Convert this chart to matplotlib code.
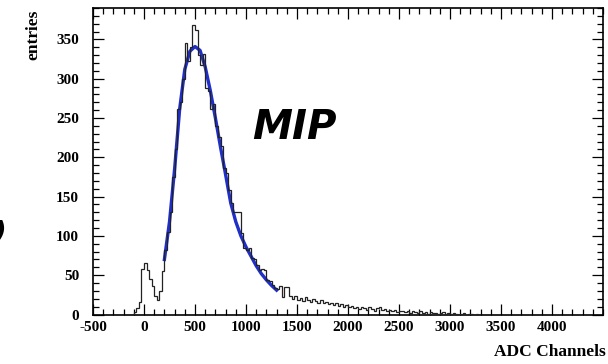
import numpy as np
import matplotlib
matplotlib.use("Agg")
import matplotlib.pyplot as plt
from matplotlib.ticker import MultipleLocator, FixedLocator

plt.rcParams["axes.unicode_minus"] = False

# histogram: 25-channel bins starting at -100
bin_lo = -100
bin_width = 25
counts = [3, 8, 16, 58, 66, 57, 45, 36, 24, 19, 30, 55,
          82, 105, 130, 175, 210, 262, 270, 300, 345, 322, 340, 368,
          362, 330, 318, 332, 288, 284, 262, 268, 240, 226, 215, 186,
          180, 158, 142, 131, 130, 131, 104, 84, 82, 85, 72, 70,
          63, 57, 58, 57, 44, 42, 38, 34, 33, 36, 22, 35, 35, 24,
          20, 23, 18, 21, 17, 22, 19, 16, 20, 17, 15, 18, 14, 16,
          13, 15, 12, 14, 11, 13, 10, 12, 9, 11, 8, 10, 7, 9, 8, 6,
          9, 7, 5, 8, 10, 6, 7, 5, 6, 4, 6, 3, 5, 4, 3, 5, 2, 4,
          3, 2, 4, 2, 3, 1, 3, 2, 2, 1, 2, 3, 1, 2, 1, 2, 1, 0,
          1, 2, 0, 1, 1, 0, 1, 0]

# Landau fit curve
fit_x = [200, 250, 300, 350, 400, 450, 500, 550, 600, 650, 700, 750,
         800, 850, 900, 950, 1000, 1050, 1100, 1150, 1200, 1250, 1300]
fit_y = [70, 118, 185, 262, 312, 335, 341, 336, 315, 285, 250, 213,
         178, 142, 118, 100, 86, 74, 62, 52, 44, 37, 31]

x_ticks = [-500, 0, 500, 1000, 1500, 2000, 2500, 3000, 3500, 4000]
y_ticks = [0, 50, 100, 150, 200, 250, 300, 350]

edges = bin_lo + bin_width * np.arange(len(counts) + 1)

serif = "Liberation Serif"
fig = plt.figure(figsize=(6.08, 3.64), dpi=100)
ax = fig.add_axes([93 / 608, 1 - 314.5 / 364, 510 / 608, 306.5 / 364])

ax.plot(fit_x, fit_y, color="#1f2fc8", lw=2.4, zorder=2)
ax.stairs(counts, edges, color="#222222", lw=0.9, zorder=3)

ax.set_xlim(-500, 4500)
ax.set_ylim(0, 390)
ax.xaxis.set_major_locator(FixedLocator(x_ticks))
ax.xaxis.set_minor_locator(MultipleLocator(100))
ax.yaxis.set_major_locator(FixedLocator(y_ticks))
ax.yaxis.set_minor_locator(MultipleLocator(10))
ax.tick_params(which="both", direction="in", top=True, right=True, width=0.9)
ax.tick_params(which="major", length=8)
ax.tick_params(which="minor", length=4)
ax.tick_params(axis="x", labelsize=11, pad=5)
ax.tick_params(axis="y", labelsize=11, pad=10)
for lab in ax.get_xticklabels() + ax.get_yticklabels():
    lab.set_fontfamily(serif)
    lab.set_fontweight("bold")
for s in ax.spines.values():
    s.set_linewidth(1.2)

fig.text(33 / 608, 1 - 35 / 364, "entries", rotation=90, ha="center", va="center",
         fontfamily=serif, fontweight="bold", fontsize=12.5)
fig.text(0.997, 1 - 352 / 364, "ADC Channels", ha="right", va="center",
         fontfamily=serif, fontweight="bold", fontsize=12.5)
fig.text(294 / 608, 1 - 128 / 364, "MIP", ha="center", va="center",
         fontsize=29, fontweight="bold", fontstyle="italic")
fig.text(0.0, 1 - 232 / 364, ")", ha="center", va="center",
         fontsize=18, fontweight="bold", fontstyle="italic")

fig.savefig("out.png", dpi=100)
